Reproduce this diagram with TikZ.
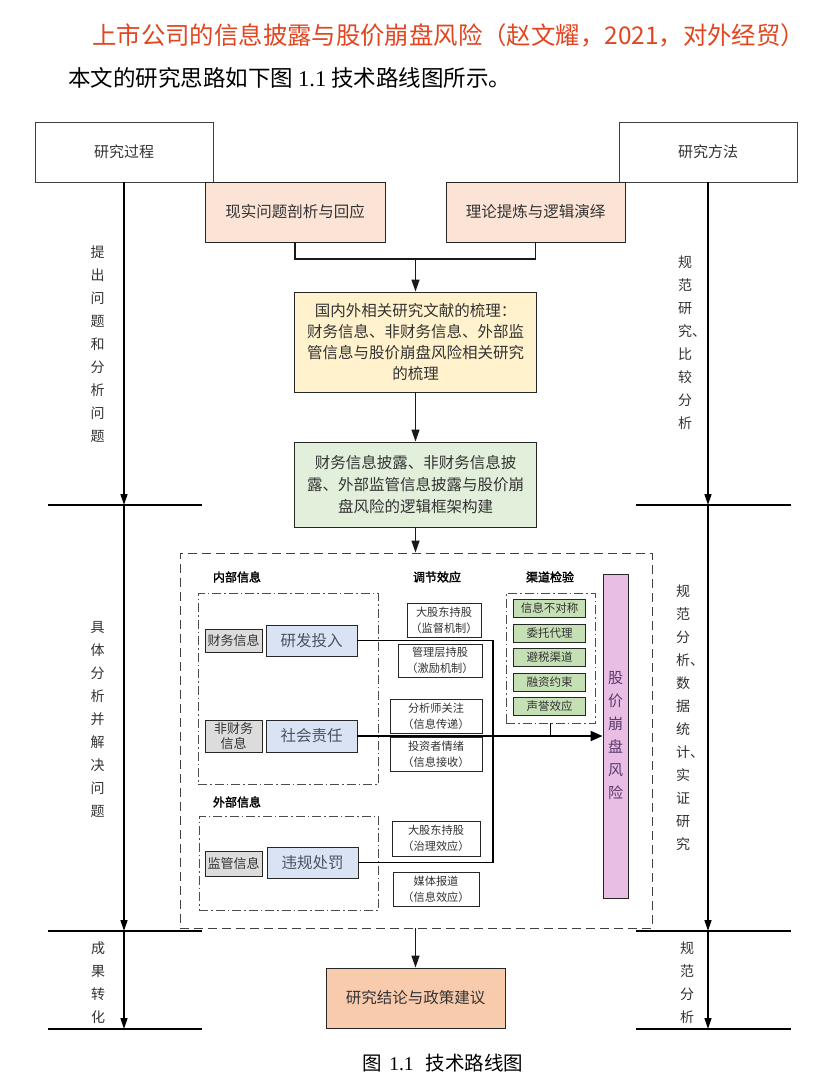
\documentclass[tikz,border=0pt]{standalone}
\usepackage{fontspec}
\setmainfont{Noto Sans CJK SC}
\newfontfamily\hdfont{Noto Sans CJK SC}[FakeBold=2]
\newfontfamily\serifl{Liberation Serif}
\usetikzlibrary{arrows.meta}
\definecolor{peach}{HTML}{FBE4D5}
\definecolor{yel}{HTML}{FFF2CC}
\definecolor{grn}{HTML}{E2EFDA}
\definecolor{fin}{HTML}{F8CBAD}
\definecolor{gry}{HTML}{DCDCDC}
\definecolor{blu}{HTML}{DAE3F3}
\definecolor{chg}{HTML}{C5E0B4}
\definecolor{pnk}{HTML}{E9BEE5}
\definecolor{txt}{HTML}{333333}
\definecolor{titred}{HTML}{E2451F}
\definecolor{blutxt}{HTML}{4A5262}
\definecolor{pnktxt}{HTML}{5B3A6B}
\begin{document}
\begin{tikzpicture}[x=1pt,y=-1pt,
  every node/.style={inner sep=0pt, text=txt},
  bx/.style={draw=black!85, line width=0.9pt, align=center},
  sz/.style 2 args={minimum width=#1pt, minimum height=#2pt},
  ln/.style={line width=1.3pt, draw=black!90},
  flow/.style={ln, -{Triangle[length=12pt,width=8pt]}},
  sidearr/.style={line width=1.3pt, -{Triangle[length=11pt,width=7pt]}},
  hl/.style={line width=1.3pt},
  vt/.style={align=left, font=\fontsize{14}{23}\selectfont},
  dd/.style={draw=black!70, line width=0.9pt, dash pattern=on 9pt off 3pt on 1.5pt off 3pt},
  hd/.style={font=\hdfont\fontsize{12}{14}\selectfont, text=black},
  md/.style={bx, line width=0.8pt, fill=white, font=\fontsize{11.2}{16}\selectfont},
  cg/.style={bx, line width=0.8pt, fill=chg, font=\fontsize{11.5}{13}\selectfont, sz={72}{18}},
  inb/.style={bx, line width=0.8pt, fill=blu, text=blutxt, font=\fontsize{15.5}{18}\selectfont},
  ing/.style={bx, line width=0.8pt, fill=gry, font=\fontsize{13}{15}\selectfont},
]
\useasboundingbox (0,0) rectangle (833,1085);
\fill[white] (0,0) rectangle (833,1085);

% header texts
\node[font=\fontsize{24.4}{26}\selectfont, text=titred, anchor=west] (title) at (92,35) {上市公司的信息披露与股价崩盘风险（赵文耀，2021，对外经贸）};
\node[font=\fontsize{22.5}{24}\selectfont, text=black, anchor=west] (intro) at (68,78) {本文的研究思路如下图 {\serifl 1.1} 技术路线图所示。};

% top boxes
\node[bx, sz={178}{60}, draw=black!75, font=\fontsize{15}{18}\selectfont] (gc) at (124,152) {研究过程};
\node[bx, sz={178}{60}, draw=black!75, font=\fontsize{15}{18}\selectfont] (ff) at (708,152) {研究方法};
\node[bx, sz={180}{60}, fill=peach, font=\fontsize{15.5}{18}\selectfont] (xs) at (295,212) {现实问题剖析与回应};
\node[bx, sz={179}{60}, fill=peach, font=\fontsize{15.5}{18}\selectfont] (ll) at (535.5,212) {理论提炼与逻辑演绎};
\coordinate (jn) at (415.5,259);
\node[bx, sz={242}{100}, fill=yel, font=\fontsize{15.5}{21}\selectfont] (yl) at (415.5,342) {国内外相关研究文献的梳理：\\财务信息、非财务信息、外部监\\管信息与股价崩盘风险相关研究\\的梳理};
\node[bx, sz={242}{85}, fill=grn, font=\fontsize{15.5}{22}\selectfont] (gr) at (415.5,484.5) {财务信息披露、非财务信息披\\露、外部监管信息披露与股价崩\\盘风险的逻辑框架构建};

% big dashed box
\node[draw=black!75, line width=0.9pt, dash pattern=on 9pt off 5pt, sz={472}{375}] (db) at (416,740.5) {};
\node[bx, sz={179}{60}, fill=fin, font=\fontsize{15.5}{18}\selectfont] (fn) at (415.5,998) {研究结论与政策建议};
\node[font=\fontsize{19.5}{22}\selectfont, text=black] (cap) at (443,1063) {图\hspace{7pt}{\serifl 1.1}\hspace{12pt}技术路线图};

% main flow
\draw[ln] (xs.south) |- (jn);
\draw[ln] (ll.south) |- (jn);
\draw[flow] (jn) -- (yl.north);
\draw[flow] (yl.south) -- (gr.north);
\draw[flow] (gr.south) -- (gr.south |- db.north);
\draw[flow] (fn.north |- db.south) -- (fn.north);

% left column
\coordinate (La) at (124,505); \coordinate (Lb) at (124,931); \coordinate (Lc) at (124,1029);
\draw[sidearr] (gc.south) -- (La);
\draw[sidearr] (La) -- (Lb);
\draw[sidearr] (Lb) -- (Lc);
\coordinate (La1) at (48,505); \coordinate (La2) at (202,505);
\coordinate (Lb1) at (48,931); \coordinate (Lb2) at (202,931);
\coordinate (Lc1) at (48,1029); \coordinate (Lc2) at (202,1029);
\draw[hl] (La1) -- (La2); \draw[hl] (Lb1) -- (Lb2); \draw[hl] (Lc1) -- (Lc2);

% right column
\coordinate (Ra) at (708,505); \coordinate (Rb) at (708,931); \coordinate (Rc) at (708,1029);
\draw[sidearr] (ff.south) -- (Ra);
\draw[sidearr] (Ra) -- (Rb);
\draw[sidearr] (Rb) -- (Rc);
\coordinate (Ra1) at (636,505); \coordinate (Ra2) at (791,505);
\coordinate (Rb1) at (636,931); \coordinate (Rb2) at (791,931);
\coordinate (Rc1) at (636,1029); \coordinate (Rc2) at (791,1029);
\draw[hl] (Ra1) -- (Ra2); \draw[hl] (Rb1) -- (Rb2); \draw[hl] (Rc1) -- (Rc2);

% vertical texts
\node[vt] (t1) at (97.5,344) {提\\出\\问\\题\\和\\分\\析\\问\\题};
\node[vt] (t2) at (97.5,719.5) {具\\体\\分\\析\\并\\解\\决\\问\\题};
\node[vt] (t3) at (98,982.5) {成\\果\\转\\化};
\node[vt, anchor=west] (r1) at (678,342.5) {规\\范\\研\\究、\\比\\较\\分\\析};
\node[vt, anchor=west] (r2) at (676,718) {规\\范\\分\\析、\\数\\据\\统\\计、\\实\\证\\研\\究};
\node[vt, anchor=west] (r3) at (680,982.5) {规\\范\\分\\析};

% inside the dashed box
\node[hd] (h1) at (237,577) {内部信息};
\node[hd] (h2) at (237,802) {外部信息};
\node[hd] (h3) at (437,577) {调节效应};
\node[hd] (h4) at (550,577) {渠道检验};

\node[dd, sz={180}{191}] (ib) at (288,688.5) {};
\node[dd, sz={179}{94}] (eb) at (288.5,863) {};
\node[dd, sz={89}{130}] (cb) at (550.5,658) {};

\node[ing, sz={57}{23}] (cw) at (233.5,640.5) {财务信息};
\node[inb, sz={91}{31}] (rd) at (311.5,640.5) {研发投入};
\node[ing, sz={57}{32}] (fcw) at (233.5,736) {非财务\\信息};
\node[inb, sz={91}{32}] (sh) at (311.5,736) {社会责任};
\node[ing, sz={57}{25}] (jg) at (233.5,863.5) {监管信息};
\node[inb, sz={91}{31}] (wg) at (312.5,862.5) {违规处罚};

\node[md, sz={74}{34}] (m1) at (444,620) {大股东持股\\（监督机制）};
\node[md, sz={84}{33}] (m2) at (440,660.5) {管理层持股\\（激励机制）};
\node[md, sz={92}{34}] (m3) at (436,716) {分析师关注\\（信息传递）};
\node[md, sz={92}{34}] (m4) at (436,754) {投资者情绪\\（信息接收）};
\node[md, sz={88}{35}] (m5) at (436,838.5) {大股东持股\\（治理效应）};
\node[md, sz={86}{34}] (m6) at (436,889) {媒体报道\\（信息效应）};

\node[cg] (c1) at (549.5,608.5) {信息不对称};
\node[cg] (c2) at (549.5,633) {委托代理};
\node[cg] (c3) at (549.5,657.5) {避税渠道};
\node[cg] (c4) at (549.5,682) {融资约束};
\node[cg] (c5) at (549.5,706.5) {声誉效应};

\node[bx, line width=0.9pt, fill=pnk, sz={25}{324}, text=pnktxt, font=\fontsize{15}{23}\selectfont] (gj) at (615.5,736) {股\\价\\崩\\盘\\风\\险};

% inner connectors
\coordinate (vj1) at (493,640.5);
\coordinate (vj2) at (493,862.5);
\draw[line width=1.2pt] (rd.east) -- (vj1) -- (vj2) -- (wg.east);
\draw[line width=2pt, -{Triangle[length=12pt,width=10pt]}] (sh.east) -- (gj.west);
\draw[line width=1.2pt] (cb.south) -- (cb.south |- sh.east);
\end{tikzpicture}
\end{document}
